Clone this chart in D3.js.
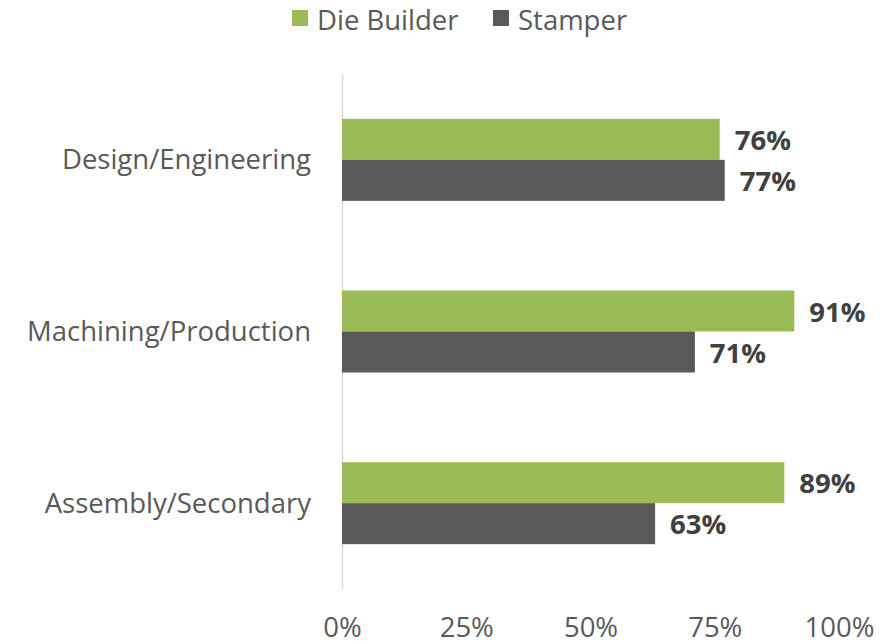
<!DOCTYPE html>
<html>
<head>
<meta charset="utf-8">
<script src="https://cdn.jsdelivr.net/npm/d3@7"></script>
<style>
  body { margin: 0; background: #fff; }
  text { font-family: "Open Sans", "Noto Sans", sans-serif; }
</style>
</head>
<body>
<div id="chart"></div>
<script>
// data
var categories = ["Design/Engineering", "Machining/Production", "Assembly/Secondary"];
var seriesNames = ["Die Builder", "Stamper"];
var dieBuilder = [76, 91, 89];
var stamper = [77, 71, 63];
var tickValues = [0, 25, 50, 75, 100];
var colors = ["#9BBB59", "#595959"];

var w = 885, h = 644, fs = 27.5;
var svg = d3.select("#chart").append("svg")
  .attr("width", w)
  .attr("height", h);

var x = d3.scaleLinear().domain([0, 100]).range([342, 839]);
var y = d3.scaleBand().domain(categories).range([74, 589]);
var inner = d3.scaleBand().domain(seriesNames).range([0, 82]);
var innerOffset = (y.bandwidth() - 82) / 2;

var rows = categories.map(function (c, i) {
  return { cat: c, vals: [dieBuilder[i], stamper[i]] };
});

// axis line
svg.append("line")
  .attr("x1", x(0) + 0.5).attr("x2", x(0) + 0.5)
  .attr("y1", 74).attr("y2", 589)
  .attr("stroke", "#d9d9d9").attr("stroke-width", 1.5);

// bars
var g = svg.selectAll(".cat")
  .data(rows)
  .enter().append("g")
  .attr("transform", function (d) { return "translate(0," + (y(d.cat) + innerOffset) + ")"; });

g.selectAll("rect")
  .data(function (d) { return d.vals.map(function (v, j) { return { v: v, s: seriesNames[j], j: j }; }); })
  .enter().append("rect")
  .attr("x", x(0))
  .attr("y", function (d) { return inner(d.s); })
  .attr("width", function (d) { return x(d.v) - x(0); })
  .attr("height", inner.bandwidth())
  .attr("fill", function (d) { return colors[d.j]; });

g.selectAll("text.val")
  .data(function (d) { return d.vals.map(function (v, j) { return { v: v, s: seriesNames[j] }; }); })
  .enter().append("text")
  .attr("class", "val")
  .attr("x", function (d) { return x(d.v) + 15; })
  .attr("y", function (d) { return inner(d.s) + inner.bandwidth() / 2 + 1; })
  .attr("dy", "0.35em")
  .attr("font-size", fs)
  .attr("font-weight", "bold")
  .attr("fill", "#404040")
  .text(function (d) { return d.v + "%"; });

// category labels
svg.selectAll("text.cat")
  .data(categories)
  .enter().append("text")
  .attr("class", "cat")
  .attr("x", 311)
  .attr("y", function (d) { return y(d) + y.bandwidth() / 2; })
  .attr("dy", "0.35em")
  .attr("text-anchor", "end")
  .attr("font-size", fs)
  .attr("fill", "#595959")
  .text(function (d) { return d; });

// x tick labels
var xAxis = svg.append("g")
  .attr("transform", "translate(0,627)")
  .call(d3.axisBottom(x).tickValues(tickValues).tickSize(0).tickFormat(function (d) { return d + "%"; }));
xAxis.select(".domain").remove();
xAxis.selectAll("text")
  .attr("dy", "0.35em")
  .attr("y", 0)
  .attr("font-size", fs)
  .attr("font-family", "\"Open Sans\", sans-serif")
  .attr("fill", "#595959");

// legend
var legend = svg.append("g");
var legX = [292, 493];
seriesNames.forEach(function (s, i) {
  legend.append("rect")
    .attr("x", legX[i]).attr("y", 10)
    .attr("width", 16).attr("height", 16)
    .attr("fill", colors[i]);
  legend.append("text")
    .attr("x", legX[i] + 25).attr("y", 20)
    .attr("dy", "0.35em")
    .attr("font-size", fs)
    .attr("fill", "#595959")
    .text(s);
});
</script>
</body>
</html>
